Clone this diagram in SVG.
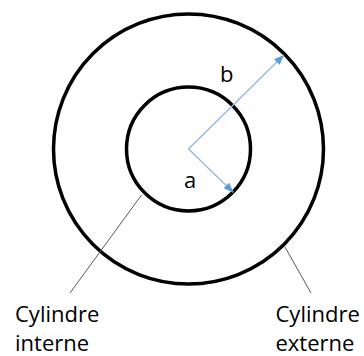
<svg xmlns="http://www.w3.org/2000/svg" width="364" height="356" viewBox="0 0 364 356">
<defs>
<style>
.ring{fill:none;stroke:#000;stroke-width:3.5}
.lead{stroke:#595959;stroke-width:1;fill:none}
.arr{stroke:#8DB4E2;stroke-width:1.2;fill:none;marker-end:url(#ah)}
.lbl{font-family:"Open Sans","Liberation Sans",sans-serif;font-size:22px;fill:#000}
</style>
<marker id="ah" viewBox="0 0 10 8" refX="10" refY="4" markerWidth="10" markerHeight="8" markerUnits="userSpaceOnUse" orient="auto">
<path d="M0,0 L10,4 L0,8 Z" fill="#5B9BD5"/>
</marker>
</defs>
<rect width="364" height="356" fill="#fff"/>
<g id="outer"><circle class="ring" cx="188.5" cy="149" r="135"/></g>
<g id="inner"><circle class="ring" cx="188.5" cy="149" r="62"/></g>
<g id="connectors">
<line class="arr" x1="188.5" y1="149" x2="233.5" y2="192.5"/>
<line class="arr" x1="188.5" y1="149" x2="284" y2="55"/>
<line class="lead" x1="141.5" y1="195" x2="70" y2="293"/>
<line class="lead" x1="285" y1="247" x2="311" y2="293"/>
</g>
<g id="label-a"><text class="lbl" x="184" y="188">a</text></g>
<g id="label-b"><text class="lbl" x="220" y="82">b</text></g>
<g id="label-interne"><text class="lbl" x="15" y="322">Cylindre</text><text class="lbl" x="15" y="350.5">interne</text></g>
<g id="label-externe"><text class="lbl" x="275.5" y="322">Cylindre</text><text class="lbl" x="275.5" y="350.5">externe</text></g>
</svg>
